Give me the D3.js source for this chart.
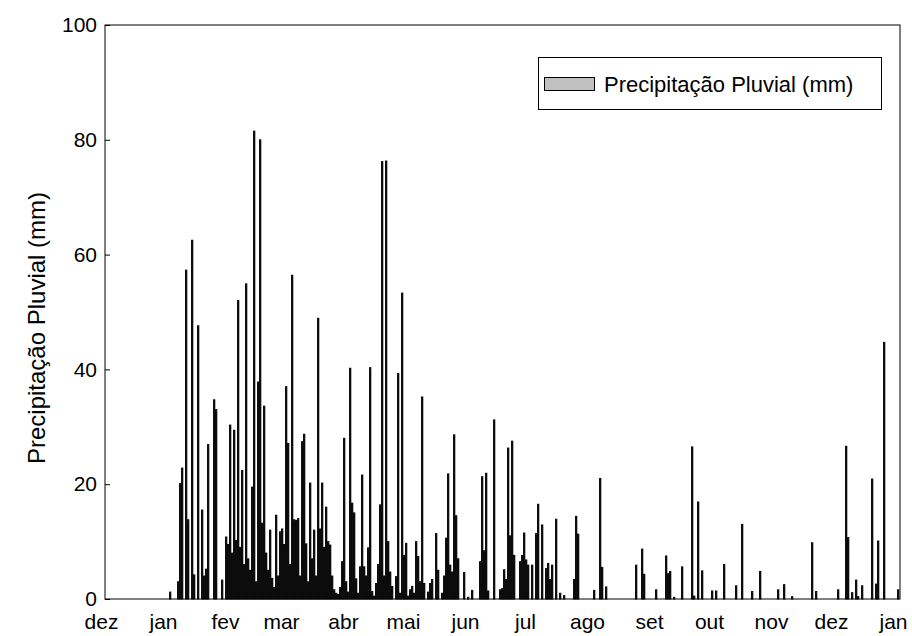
<!DOCTYPE html>
<html>
<head>
<meta charset="utf-8">
<script src="https://cdn.jsdelivr.net/npm/d3@7"></script>
<style>
  body { margin: 0; background: #fff; }
  svg text { font-family: "Liberation Sans", Arial, sans-serif; fill: #000; }
</style>
</head>
<body>
<svg id="chart" width="912" height="636"></svg>
<script>
// Daily rainfall (mm), only the days with rain
const rainDates = [
  "2011-01-04","2011-01-08","2011-01-09","2011-01-10","2011-01-12","2011-01-13","2011-01-15","2011-01-16",
  "2011-01-18","2011-01-20","2011-01-21","2011-01-22","2011-01-23","2011-01-26","2011-01-27","2011-01-30",
  "2011-02-01","2011-02-02","2011-02-03","2011-02-04","2011-02-05","2011-02-06","2011-02-07","2011-02-08",
  "2011-02-09","2011-02-10","2011-02-11","2011-02-12","2011-02-13","2011-02-14","2011-02-15","2011-02-16",
  "2011-02-17","2011-02-18","2011-02-19","2011-02-20","2011-02-21","2011-02-22","2011-02-23","2011-02-24",
  "2011-02-25","2011-02-26","2011-02-27","2011-02-28",
  "2011-03-01","2011-03-02","2011-03-03","2011-03-04","2011-03-05","2011-03-06","2011-03-07","2011-03-08",
  "2011-03-09","2011-03-10","2011-03-11","2011-03-12","2011-03-13","2011-03-14","2011-03-15","2011-03-16",
  "2011-03-17","2011-03-18","2011-03-19","2011-03-20","2011-03-21","2011-03-22","2011-03-23","2011-03-24",
  "2011-03-25","2011-03-26","2011-03-27","2011-03-28","2011-03-29","2011-03-30","2011-03-31",
  "2011-04-01","2011-04-02","2011-04-03","2011-04-04","2011-04-05","2011-04-06","2011-04-07","2011-04-08",
  "2011-04-09","2011-04-10","2011-04-11","2011-04-12","2011-04-13","2011-04-14","2011-04-15","2011-04-16",
  "2011-04-17","2011-04-18","2011-04-19","2011-04-20","2011-04-21","2011-04-22","2011-04-23","2011-04-24",
  "2011-04-25","2011-04-27","2011-04-28","2011-04-29","2011-04-30",
  "2011-05-01","2011-05-02","2011-05-03","2011-05-04","2011-05-05","2011-05-06","2011-05-07","2011-05-08",
  "2011-05-09","2011-05-10","2011-05-11","2011-05-13","2011-05-14","2011-05-15","2011-05-17","2011-05-18",
  "2011-05-20","2011-05-21","2011-05-22","2011-05-23","2011-05-24","2011-05-25","2011-05-26","2011-05-27",
  "2011-05-28","2011-05-31",
  "2011-06-02","2011-06-04","2011-06-08","2011-06-09","2011-06-10","2011-06-11","2011-06-12","2011-06-15",
  "2011-06-18","2011-06-19","2011-06-20","2011-06-21","2011-06-22","2011-06-23","2011-06-24","2011-06-25",
  "2011-06-28","2011-06-29","2011-06-30",
  "2011-07-01","2011-07-02","2011-07-04","2011-07-06","2011-07-07","2011-07-09","2011-07-11","2011-07-12",
  "2011-07-13","2011-07-14","2011-07-16","2011-07-18","2011-07-20","2011-07-25","2011-07-26","2011-07-27",
  "2011-08-04","2011-08-07","2011-08-08","2011-08-10","2011-08-25","2011-08-28","2011-08-29",
  "2011-09-04","2011-09-09","2011-09-10","2011-09-11","2011-09-13","2011-09-17","2011-09-22","2011-09-23",
  "2011-09-25","2011-09-27",
  "2011-10-02","2011-10-04","2011-10-08","2011-10-14","2011-10-17","2011-10-22","2011-10-26",
  "2011-11-04","2011-11-07","2011-11-11","2011-11-21","2011-11-23",
  "2011-12-04","2011-12-08","2011-12-09","2011-12-11","2011-12-13","2011-12-14","2011-12-16","2011-12-21",
  "2011-12-23","2011-12-24","2011-12-27",
  "2012-01-03"
];
const rainMm = [
  1.2, 3.0, 20.1, 22.8, 57.3, 13.8, 62.5, 4.2,
  47.6, 15.5, 4.0, 5.2, 26.9, 34.7, 33.0, 3.3,
  10.8, 9.5, 30.3, 8.0, 29.4, 10.2, 52.0, 9.0,
  22.4, 6.0, 54.9, 7.0, 5.0, 19.5, 81.5, 3.0,
  37.8, 80.0, 13.2, 33.6, 8.0, 5.0, 12.0, 3.6,
  2.0, 14.6, 4.0, 11.7,
  12.2, 9.5, 37.0, 27.1, 6.0, 56.4, 13.8, 13.7,
  14.0, 4.0, 27.4, 28.7, 9.6, 3.0, 20.2, 7.0,
  12.0, 4.0, 48.9, 12.2, 20.2, 9.0, 16.0, 10.0,
  9.4, 4.0, 1.6, 1.0, 0.8, 2.0, 6.5,
  28.0, 3.0, 1.2, 40.2, 16.7, 15.0, 3.5, 1.0,
  5.6, 21.6, 5.6, 4.0, 8.9, 40.3, 1.3, 0.5,
  2.7, 6.0, 16.4, 76.2, 4.0, 76.3, 10.0, 4.7,
  2.2, 3.9, 39.3, 1.0, 53.3,
  7.6, 9.7, 0.5, 1.6, 2.2, 1.0, 10.0, 7.4,
  3.0, 35.2, 2.7, 1.2, 2.7, 3.4, 11.4, 5.0,
  1.0, 4.0, 10.6, 21.8, 5.9, 4.7, 28.6, 14.5,
  7.0, 4.6,
  0.3, 1.5, 6.5, 21.3, 8.4, 21.9, 1.4, 31.2,
  1.6, 1.8, 5.1, 3.4, 26.3, 11.0, 27.5, 7.6,
  6.5, 7.6, 11.5,
  6.8, 5.9, 5.9, 11.4, 16.5, 12.9, 5.3, 6.2,
  3.4, 5.9, 13.9, 1.0, 0.6, 3.4, 14.4, 11.3,
  1.5, 21.0, 5.5, 2.1, 5.9, 8.7, 4.3,
  1.6, 7.5, 4.4, 4.8, 0.3, 5.6, 26.5, 0.5,
  16.9, 4.9,
  1.4, 1.4, 6.0, 2.3, 13.0, 1.3, 4.8,
  1.6, 2.5, 0.4, 9.8, 1.3,
  1.6, 26.6, 10.7, 1.1, 3.3, 0.4, 2.3, 20.9,
  2.6, 10.1, 44.7,
  1.6
];
const monthLabels = ["dez","jan","fev","mar","abr","mai","jun","jul","ago","set","out","nov","dez","jan"];
const yTickValues = [0, 20, 40, 60, 80, 100];
const axisTitle = "Precipitação Pluvial (mm)";
const seriesName = "Precipitação Pluvial (mm)";

const parseDate = d3.timeParse("%Y-%m-%d");
const records = rainDates.map((s, i) => ({ date: parseDate(s), mm: rainMm[i] }));

const svg = d3.select("#chart");
const plot = { left: 105, right: 900, top: 25, bottom: 599 };

const x = d3.scaleTime()
  .domain([new Date(2010, 11, 3), new Date(2012, 0, 4, 12)])
  .range([plot.left, plot.right]);
const y = d3.scaleLinear().domain([0, 100]).range([plot.bottom, plot.top]);

// daily bars
svg.append("g")
  .selectAll("rect")
  .data(records)
  .join("rect")
  .attr("x", d => x(d.date) + 0.6)
  .attr("width", d => x(d3.timeDay.offset(d.date, 1)) - x(d.date) - 0.8)
  .attr("y", d => y(d.mm))
  .attr("height", d => y(0) - y(d.mm))
  .attr("fill", "#000")
  .attr("stroke", "#000")
  .attr("stroke-width", 1);

// frame
svg.append("rect")
  .attr("x", plot.left).attr("y", plot.top)
  .attr("width", plot.right - plot.left).attr("height", plot.bottom - plot.top)
  .attr("fill", "none").attr("stroke", "#000").attr("stroke-width", 1);

// y axis
const yAxis = svg.append("g")
  .attr("transform", `translate(${plot.left},0)`)
  .call(d3.axisLeft(y).tickValues(yTickValues).tickSize(-5).tickPadding(8));
yAxis.select(".domain").remove();
yAxis.selectAll("line").attr("stroke", "#000");
yAxis.selectAll("text").style("font-size", "21px").attr("fill", "#000");

// x axis, one label per month start
const monthStarts = d3.timeMonth.range(new Date(2010, 11, 1), new Date(2012, 0, 2));
const xAxis = svg.append("g")
  .attr("transform", `translate(0,${plot.bottom})`)
  .call(d3.axisBottom(x).tickValues(monthStarts).tickFormat((d, i) => monthLabels[i]).tickSize(0).tickPadding(15));
xAxis.select(".domain").remove();
xAxis.selectAll("text").style("font-size", "21px").attr("fill", "#000");

// y title
svg.append("text")
  .attr("transform", "translate(45,328) rotate(-90)")
  .attr("text-anchor", "middle")
  .style("font-size", "24px")
  .text(axisTitle);

// legend
const legend = svg.append("g");
legend.append("rect")
  .attr("x", 538.5).attr("y", 57.5).attr("width", 343).attr("height", 52)
  .attr("fill", "#fff").attr("stroke", "#000");
legend.append("rect")
  .attr("x", 544.5).attr("y", 77.5).attr("width", 50).attr("height", 13)
  .attr("fill", "#c0c0c0").attr("stroke", "#000");
legend.append("text")
  .attr("x", 604).attr("y", 92)
  .style("font-size", "22px")
  .text(seriesName);
</script>
</body>
</html>
